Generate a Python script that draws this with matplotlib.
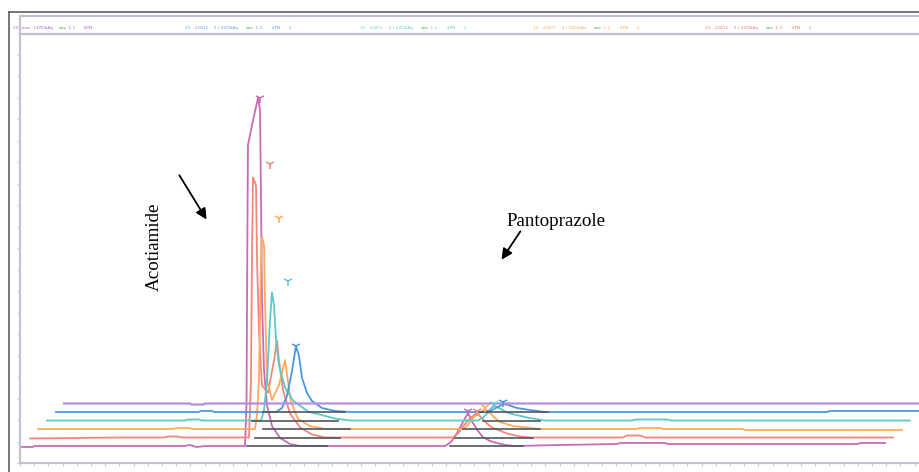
import matplotlib
matplotlib.use('Agg')
import matplotlib.pyplot as plt
from matplotlib import transforms
from matplotlib.lines import Line2D
from matplotlib.ticker import MultipleLocator

# retention time (min) and detector signal (mAU) for the six stacked runs,
# listed bottom run first
magenta_t = [0.01, 0.14, 0.16, 1.83, 1.89, 1.96, 2.06, 2.500, 2.517, 2.522, 2.528, 2.533,
             2.578, 2.644, 2.667, 2.678, 2.689, 2.711, 2.744, 2.800, 2.889, 3.000, 3.111,
             4.667, 4.722, 4.789, 4.856, 4.922, 4.978, 5.033, 5.089, 5.144, 5.222, 5.300,
             5.389, 5.500, 6.000, 6.633, 6.667, 7.167, 7.200, 9.311, 9.333, 9.611]
magenta_v = [16, 16, 17, 17, 18, 16, 17, 17, 60, 150, 250, 318,
             338, 365, 353, 263, 163, 93, 58, 37, 25, 19, 17,
             17, 17, 21, 30, 41, 50, 40, 32, 26, 22, 20,
             18, 17, 18, 19, 20, 20, 19, 19, 20, 20]

salmon_t = [0.016, 1.00, 1.50, 1.55, 1.66, 1.70, 2.449, 2.471, 2.482, 2.493, 2.527, 2.538,
            2.560, 2.593, 2.660, 2.727, 2.760, 2.782, 2.827, 2.904, 3.016, 3.149, 3.293,
            4.716, 4.771, 4.816, 4.904, 4.982, 5.038, 5.093, 5.149, 5.316, 5.460, 5.571,
            6.60, 6.65, 6.80, 6.85, 9.604]
salmon_v = [16, 17, 17, 18, 18, 17, 17, 74, 194, 277, 269, 194,
            124, 69, 62, 94, 114, 94, 64, 41, 27, 20, 17,
            17, 21, 27, 36, 42, 36, 31, 27, 21, 18, 17,
            17, 19, 19, 17, 17]

orange_t = [0.009, 1.50, 1.55, 1.68, 1.72, 2.420, 2.442, 2.464, 2.487, 2.498, 2.520, 2.531,
            2.553, 2.609, 2.687, 2.753, 2.776, 2.820, 2.898, 3.031, 3.198,
            4.731, 4.787, 4.842, 4.909, 4.976, 5.031, 5.087, 5.142, 5.287, 5.476, 5.587,
            6.66, 6.70, 6.92, 6.96, 7.84, 7.86, 9.609]
orange_v = [17, 17, 18, 18, 17, 17, 31, 66, 186, 209, 201, 146,
            66, 46, 61, 86, 71, 44, 27, 20, 17,
            17, 21, 28, 33, 37, 33, 28, 24, 20, 18, 17,
            17, 18, 18, 17, 17, 16, 16]

teal_t = [0.013, 1.55, 1.58, 1.70, 1.73, 2.391, 2.424, 2.458, 2.491, 2.513, 2.536, 2.558,
          2.591, 2.658, 2.747, 2.913, 3.213, 3.380,
          4.802, 4.858, 4.913, 4.947, 4.980, 5.047, 5.102, 5.158, 5.347, 5.547,
          6.52, 6.55, 6.91, 6.94, 9.602]
teal_v = [17, 17, 18, 18, 17, 17, 27, 57, 117, 145, 132, 97,
          72, 50, 37, 26, 19, 17,
          17, 20, 25, 29, 32, 29, 26, 24, 20, 17,
          17, 18, 18, 17, 17]

blue_t = [0.018, 1.60, 1.63, 1.75, 1.78, 2.462, 2.529, 2.584, 2.640, 2.684, 2.718, 2.751,
          2.807, 2.862, 2.973, 3.118, 3.284,
          4.784, 4.862, 4.929, 4.984, 5.040, 5.140, 5.284, 5.451, 8.59, 8.61, 9.80]
blue_v = [17, 17, 18, 18, 17, 17, 21, 33, 58, 83, 73, 51,
          36, 28, 21, 18, 17,
          17, 19, 22, 25, 24, 21, 19, 17, 17, 18, 18]

lavender_t = [0.011, 1.41, 1.43, 1.56, 1.58, 9.80]
lavender_v = [17, 17, 16, 16, 17, 17]

# peak apex marks (acotiamide, pantoprazole) per run, bottom run first
aco_mark_t = [2.667, 2.682, 2.687, 2.691, 2.684]
aco_mark_v = [365, 291, 228, 157, 83]
panto_mark_t = [4.978, 4.982, 4.976, 4.980, 4.984]
panto_mark_v = [52, 44, 39, 34, 27]

# integration baselines (start, end in min)
baseline_level = 17
aco_bar_start = [2.522, 2.516, 2.509, 2.289, 2.318]
aco_bar_end = [3.411, 3.460, 3.476, 3.244, 3.229]
panto_bar_start = [4.778, 4.738, 4.731, 4.858, 4.729]
panto_bar_end = [5.589, 5.604, 5.587, 5.491, 5.484]

header_head = ['25  ααα   |3ZDbAq', '25   2Ω0(1    2 | 3ZDbAq', '25   2Ω0(1    2 | 3ZDbAq',
               '25   2Ω0(1    2 | 3ZDbAq', '25   2Ω0(1    2 | 3ZDbAq']
header_tail = ['.1.1      4PN', '.1.1       4PN      2', '.1.1       4PN      2',
               '.1.1       4PN      2', '.1.1       4PN      2']
header_x = [13, 185, 360, 533, 705]
squiggle_dx = [46, 61, 61, 61, 61]

runs = [(magenta_t, magenta_v, '#c86cb4'),
        (salmon_t, salmon_v, '#f4877c'),
        (orange_t, orange_v, '#ffab5a'),
        (teal_t, teal_v, '#5cc8c8'),
        (blue_t, blue_v, '#4a98e0'),
        (lavender_t, lavender_v, '#b58ee0')]
header_colors = ['#a050c0', '#4a98e0', '#5cc8c8', '#ffa040', '#f06a60']

W, H = 920, 472
fig = plt.figure(figsize=(9.2, 4.72), dpi=100)
ax = fig.add_axes([20 / W, (H - 463) / H, 910 / W, 429 / H])
ax.set_xlim(0, 910 / 90)
ax.set_ylim(0, 429)

for k, (t, v, c) in enumerate(runs):
    tr = transforms.offset_copy(ax.transData, fig=fig, x=8.6 * k, y=8.5 * k, units='dots')
    ax.plot(t, v, color=c, lw=1.3 if k < 5 else 1.6, transform=tr, zorder=2)
    if k < 5:
        for a, b in [(aco_bar_start[k], aco_bar_end[k]), (panto_bar_start[k], panto_bar_end[k])]:
            ax.plot([a, b], [baseline_level, baseline_level], color='#4f565e', lw=1.2,
                    transform=tr, zorder=3)
        ax.plot([aco_mark_t[k], panto_mark_t[k]], [aco_mark_v[k], panto_mark_v[k]],
                ls='none', marker='1', ms=7, mew=1.1, color=c, transform=tr, zorder=4)

# frame
for s in ['left', 'bottom', 'top']:
    ax.spines[s].set_color('#c0c4d2')
    ax.spines[s].set_linewidth(1.6)
ax.spines['right'].set_visible(False)
ax.xaxis.set_major_locator(MultipleLocator(14.2 / 90))
ax.yaxis.set_major_locator(MultipleLocator(21.5))
ax.tick_params(direction='out', length=2.5, width=0.8, color='#c8ccd8',
               labelbottom=False, labelleft=False)

# header strip and outer border
fig.add_artist(Line2D([20 / W, 1], [1 - 16 / H, 1 - 16 / H], color='#b8bccb', lw=1.6))
fig.add_artist(Line2D([20 / W, 20 / W], [1 - 16 / H, 1 - 34 / H], color='#c0c4d2', lw=1.6))
fig.add_artist(Line2D([8.5 / W, 1], [1 - 12 / H, 1 - 12 / H], color='#5e5e5e', lw=1.2))
fig.add_artist(Line2D([8.5 / W, 8.5 / W], [0, 1 - 12 / H], color='#5e5e5e', lw=1.2))

for x0, dx, head, tail, c in zip(header_x, squiggle_dx, header_head, header_tail, header_colors):
    fig.text(x0 / W, 1 - 28 / H, head, fontsize=3.2, color=c, va='center', alpha=0.85)
    fig.text((x0 + dx) / W, 1 - 28 / H, 'vvv', fontsize=3.2, color='#30a030', va='center')
    fig.text((x0 + dx + 8) / W, 1 - 28 / H, tail, fontsize=3.2, color=c, va='center', alpha=0.85)

# compound labels
ax.text(0.148, 0.503, 'Acotiamide', rotation=90, transform=ax.transAxes, ha='center',
        va='center', fontsize=13.7, family='Liberation Serif')
ax.text(0.589, 0.564, 'Pantoprazole', transform=ax.transAxes, ha='center',
        va='center', fontsize=13.7, family='Liberation Serif')
arrow = dict(arrowstyle='-|>', color='black', lw=1.3, mutation_scale=16)
ax.annotate('', xy=(0.2066, 0.562), xytext=(0.1736, 0.676), xycoords='axes fraction',
            arrowprops=arrow)
ax.annotate('', xy=(0.5275, 0.4685), xytext=(0.5516, 0.5455), xycoords='axes fraction',
            arrowprops=arrow)

fig.savefig('out.png', dpi=100)
